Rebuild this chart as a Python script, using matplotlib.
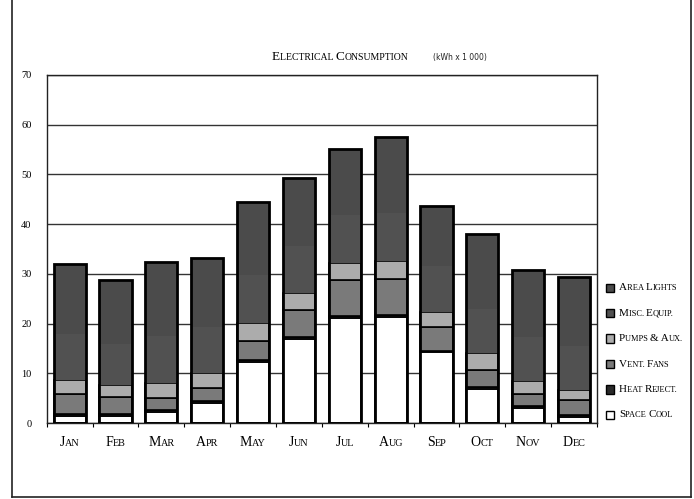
import matplotlib
matplotlib.use("Agg")
import matplotlib.pyplot as plt
from matplotlib.offsetbox import TextArea, HPacker, VPacker, DrawingArea, AnnotationBbox
from matplotlib.patches import Rectangle
from matplotlib.lines import Line2D
import numpy as np

months = ['Jan', 'Feb', 'Mar', 'Apr', 'May', 'Jun', 'Jul', 'Aug', 'Sep', 'Oct', 'Nov', 'Dec']
space_cool = [1.5, 1.4, 2.2, 4.1, 12.2, 16.9, 21.1, 21.4, 14.2, 6.8, 3.0, 1.2]
heat_reject = [0.4, 0.4, 0.4, 0.4, 0.4, 0.4, 0.4, 0.4, 0.4, 0.4, 0.4, 0.4]
vent_fans = [4.0, 3.4, 2.4, 2.5, 4.0, 5.4, 7.2, 7.2, 4.7, 3.4, 2.5, 3.0]
pumps_aux = [2.8, 2.5, 3.1, 3.1, 3.6, 3.5, 3.5, 3.6, 3.0, 3.4, 2.5, 2.1]
misc_equip = [9.2, 8.3, 9.5, 9.2, 9.5, 9.4, 9.6, 9.7, 9.2, 9.0, 8.9, 8.8]
area_lights = [14.0, 12.7, 14.7, 13.9, 14.7, 13.6, 13.3, 15.2, 12.1, 15.1, 13.4, 13.9]

series = [
    ('Space Cool', space_cool, '#ffffff', 'black'),
    ('Heat Reject.', heat_reject, '#2a2a2a', 'black'),
    ('Vent. Fans', vent_fans, '#7a7a7a', 'black'),
    ('Pumps & Aux.', pumps_aux, '#acacac', 'black'),
    ('Misc. Equip.', misc_equip, '#515151', 'none'),
    ('Area Lights', area_lights, '#4b4b4b', 'none'),
]
yticks = [0, 10, 20, 30, 40, 50, 60, 70]

SERIF = 'Liberation Serif'

fig = plt.figure(figsize=(6.94, 4.99), dpi=100)
ax = fig.add_axes([0.0673, 0.152, 0.793, 0.698])

x = np.arange(len(months))
bottom = np.zeros(len(months))
legend_items = []
for name, vals, col, ec in series:
    ax.bar(x, vals, width=0.7, bottom=bottom, color=col, edgecolor=ec,
           linewidth=1.2, zorder=3)
    legend_items.append((name, col))
    bottom += np.array(vals)
# thick outline around each full bar
ax.bar(x, bottom, width=0.7, fill=False, edgecolor='black', linewidth=2.0, zorder=4)

ax.set_xlim(-0.5, len(months) - 0.5)
ax.set_ylim(0, 70)
ax.set_yticks(yticks)
ax.set_yticklabels([str(v) for v in yticks], fontfamily=SERIF, fontsize=7.5)
ax.tick_params(axis='y', length=0, pad=11)
ax.yaxis.grid(True, color='#333333', linewidth=1.0, zorder=0)
ax.set_xticks([])
ax.set_xticks(np.arange(len(months) + 1) - 0.5, minor=True)
ax.tick_params(axis='x', which='minor', length=3, width=0.8, direction='out')
for s in ax.spines.values():
    s.set_linewidth(1.0)
    s.set_color('#222222')


def small_caps(text, big, small, color='black', family=SERIF):
    parts = []
    cur = ''
    cur_big = None
    for ch in text:
        if ch.isalpha():
            isb = ch.isupper()
        elif ch.isdigit() or ch == '&':
            isb = True
        else:
            isb = cur_big if cur_big is not None else True
        if cur_big is None or isb == cur_big:
            cur += ch
            cur_big = isb
        else:
            parts.append((cur, cur_big))
            cur = ch
            cur_big = isb
    if cur:
        parts.append((cur, cur_big))
    children = []
    for t, b in parts:
        children.append(TextArea(t.upper(), textprops=dict(fontsize=big if b else small,
                                                             color=color, family=family)))
    return HPacker(children=children, align='baseline', pad=0, sep=0)


# month labels
for xi, m in zip(x, months):
    box = small_caps(m, 10, 7.3)
    ab = AnnotationBbox(box, (xi, 0), xybox=(0, -14), xycoords='data',
                        boxcoords='offset points', frameon=False, box_alignment=(0.5, 0.5),
                        annotation_clip=False)
    ax.add_artist(ab)

# title
title = small_caps('Electrical Consumption', 9.5, 7.0)
ab = AnnotationBbox(title, (0.49, 0.885), xycoords='figure fraction', frameon=False,
                    box_alignment=(0.5, 0.5), annotation_clip=False)
fig.add_artist(ab)
fig.text(0.663, 0.885, '(kWh x 1 000)', fontsize=5.5, family='DejaVu Sans',
         ha='center', va='center', color='#222222')

# legend
rows = []
for name, col in reversed(legend_items):
    da = DrawingArea(7, 7, 0, 0)
    da.add_artist(Rectangle((0.5, 0.5), 6, 6, facecolor=col, edgecolor='black', linewidth=1.0))
    rows.append(HPacker(children=[da, small_caps(name, 8, 6)], align='center', pad=0, sep=3))
leg = VPacker(children=rows, align='left', pad=0, sep=11.3)
ab = AnnotationBbox(leg, (0.872, 0.433), xycoords='figure fraction', frameon=False,
                    box_alignment=(0, 1), annotation_clip=False)
fig.add_artist(ab)

# outer border lines
for xs, ys in [([0.017, 0.017], [0.004, 1.0]), ([0.996, 0.996], [0.004, 1.0]),
               ([0.017, 0.996], [0.004, 0.004])]:
    fig.add_artist(Line2D(xs, ys, transform=fig.transFigure, color='#222222', linewidth=1.2))

fig.savefig('out.png', dpi=100)
